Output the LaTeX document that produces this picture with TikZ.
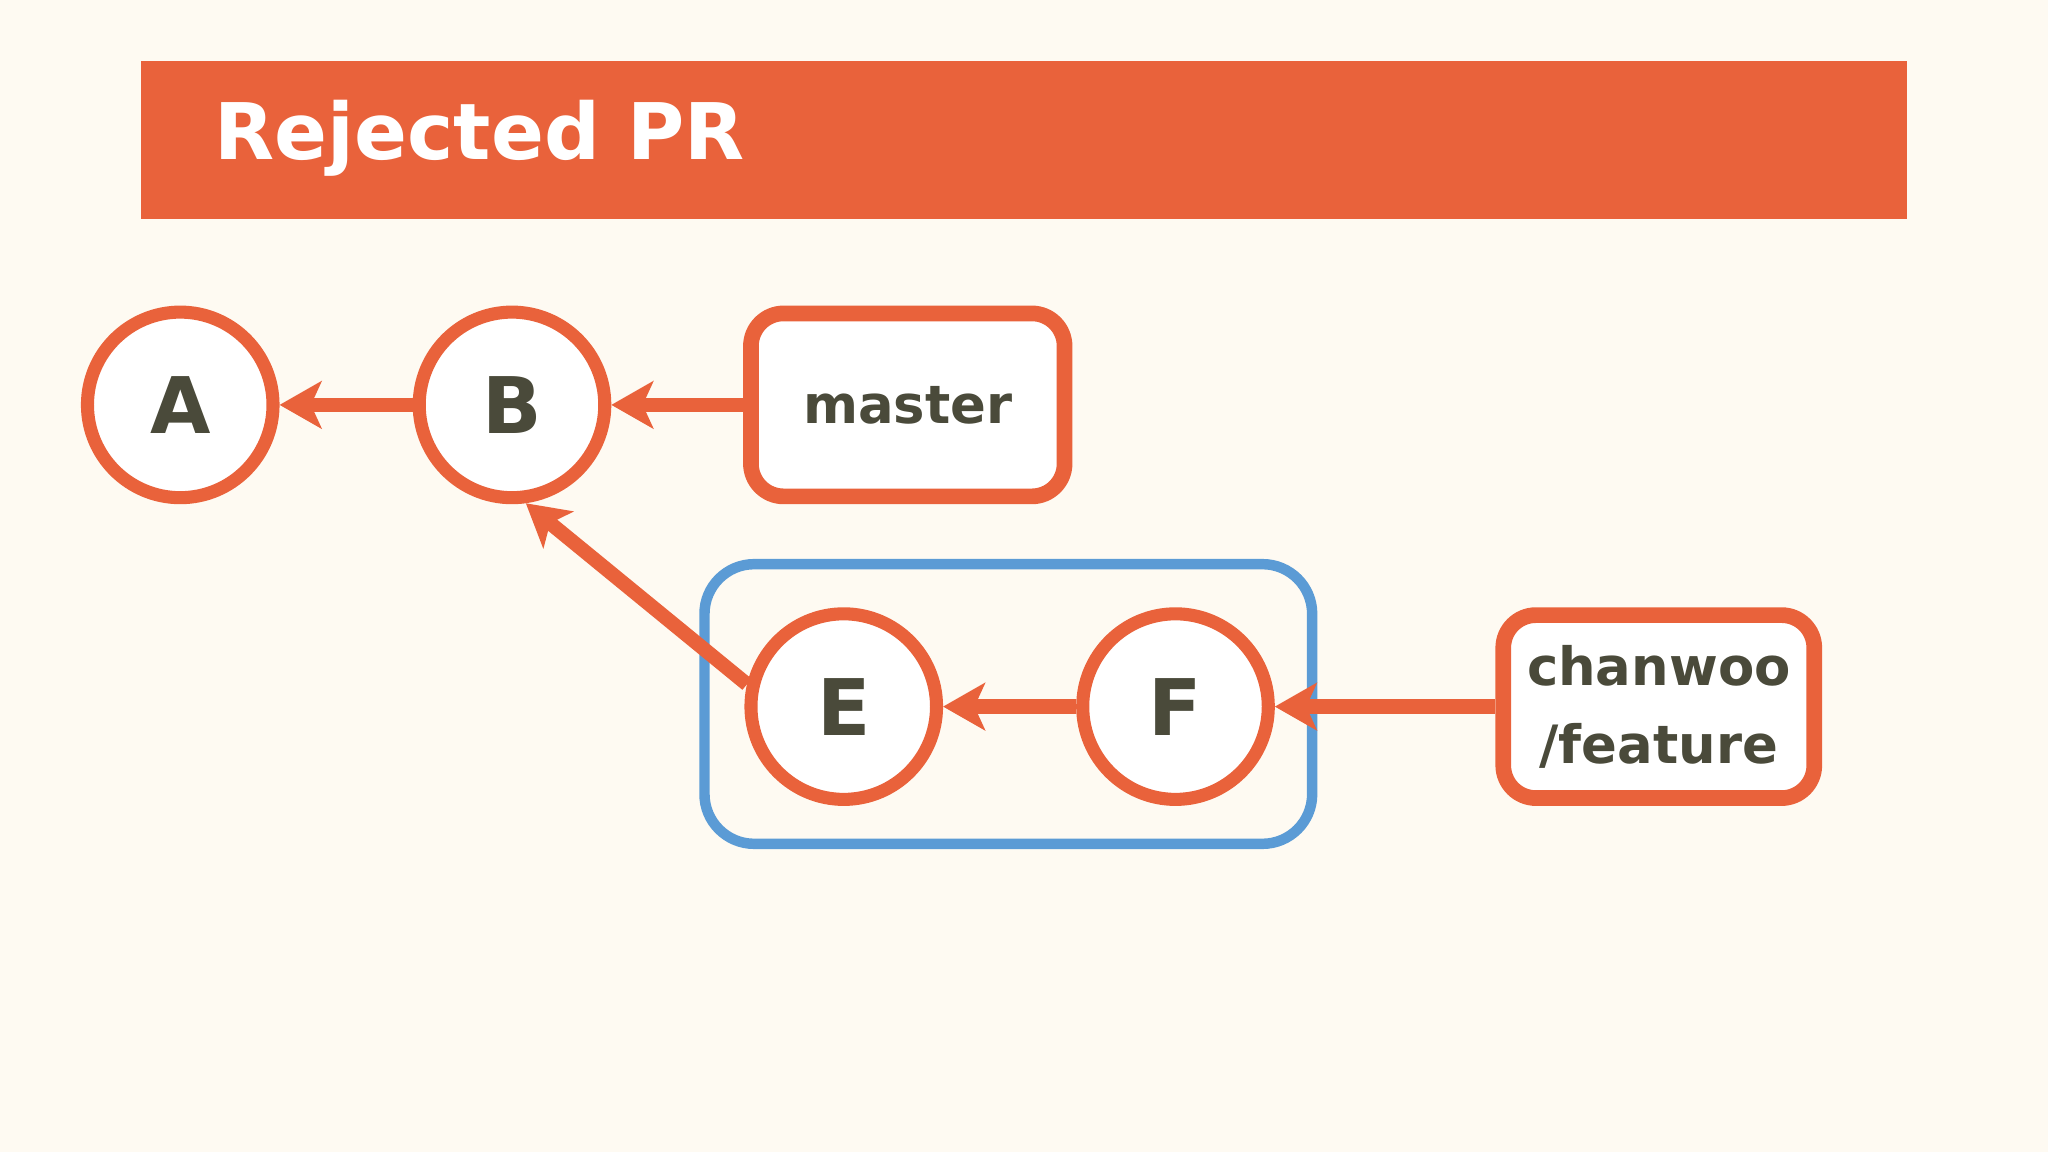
\documentclass[tikz,border=0pt]{standalone}
\usepackage{fontspec}
\setmainfont{DejaVu Sans}
\usetikzlibrary{arrows.meta}
\definecolor{bg}{HTML}{FEFAF2}
\definecolor{org}{HTML}{E9623B}
\definecolor{blu}{HTML}{5B9BD5}
\definecolor{txt}{HTML}{4A4A3A}
\begin{document}
\begin{tikzpicture}[x=0.01cm,y=-0.01cm,
  commit/.style={circle,draw=org,line width=0.1cm,fill=white,minimum size=1.42cm,inner sep=0pt,text=txt,font=\fontsize{17}{20}\selectfont\bfseries},
  ref/.style={rectangle,rounded corners=0.25cm,draw=org,line width=0.12cm,fill=white,text=txt,font=\fontsize{11.5}{17}\selectfont\bfseries,align=center,inner sep=0pt},
  arr/.style={org,line width=0.11cm,-{Stealth[length=0.32cm,width=0.36cm,inset=0.08cm]}}]
\fill[bg] (0,0) rectangle (1568,882);
\fill[org] (108,47) rectangle (1460,168);
\node[anchor=west,text=white,font=\fontsize{17}{22}\selectfont\bfseries] (title) at (152,106) {Rejected PR};
\node[rectangle,rounded corners=0.38cm,draw=blu,line width=0.08cm,minimum width=4.65cm,minimum height=2.14cm] (grp) at (772,539) {};
\node[commit] (A) at (138,310) {A};
\node[commit] (B) at (392,310) {B};
\node[commit] (E) at (646,541) {E};
\node[commit] (F) at (900,541) {F};
\node[ref,minimum width=2.4cm,minimum height=1.4cm] (m) at (695,310) {master};
\node[ref,minimum width=2.38cm,minimum height=1.4cm] (c) at (1270,541) {chanwoo\\/feature};
\draw[arr] (B) -- (A);
\draw[arr] (m) -- (B);
\draw[arr] (F) -- (E);
\draw[arr] (c) -- (F);
\draw[arr] (E.167) -- (B.-82);
\end{tikzpicture}
\end{document}
